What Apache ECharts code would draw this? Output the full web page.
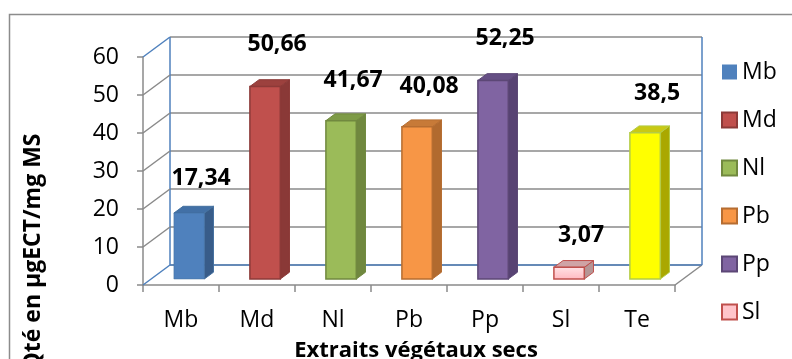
<!DOCTYPE html>
<html>
<head>
<meta charset="utf-8">
<script src="https://cdn.jsdelivr.net/npm/echarts@6/dist/echarts.min.js"></script>
<style>
  html, body { margin: 0; padding: 0; background: #fff; }
  #chart { width: 792px; height: 359px; }
</style>
</head>
<body>
<div id="chart"></div>
<script>
// Extract amounts per dried plant extract
const categories = ['Mb', 'Md', 'Nl', 'Pb', 'Pp', 'Sl', 'Te'];
const values = [17.34, 50.66, 41.67, 40.08, 52.25, 3.07, 38.5];
const yTicks = [0, 10, 20, 30, 40, 50, 60];
const legendNames = ['Mb', 'Md', 'Nl', 'Pb', 'Pp', 'Sl'];

// Face colours of each 3D column: front, side, top, outline
const palette = {
  Mb: { front: '#4F81BD', side: '#385C89', top: '#4270A6', edge: '#44709F' },
  Md: { front: '#C0504D', side: '#8A3937', top: '#9C413E', edge: '#8C3A38' },
  Nl: { front: '#9BBB59', side: '#70883F', top: '#7E9B47', edge: '#71893F' },
  Pb: { front: '#F79646', side: '#B16A2F', top: '#C77A38', edge: '#B66D31' },
  Pp: { front: '#8064A2', side: '#584373', top: '#654F84', edge: '#5C4776' },
  Sl: { front: '#FFC4CA', side: '#B69696', top: '#CFA3A5', edge: '#C0504D' },
  Te: { front: '#FFFF00', side: '#AAA800', top: '#C9C914', edge: '#B4CC46' }
};

// Depth vector of the chart box (front plane -> back wall), in pixels
const DEPTH_X = 27, DEPTH_Y = -20;
const FRONT_FRAC = 0.3;   // depth of a column's front face
const SIDE_FRAC = 0.34;   // column thickness along depth
const BAR_RATIO = 0.4;    // column width as part of a category band

const GRID_LINE = '#8A8A8A';
const WALL_EDGE = '#4F81BD';
const FONT = '"Open Sans", "DejaVu Sans", sans-serif';

function fmt(v) { return String(v).replace('.', ','); }

function renderColumn(params, api) {
  const ci = api.value(0);
  const v = api.value(1);
  const c = palette[categories[ci]];
  const base = api.coord([ci, 0]);
  const top = api.coord([ci, v]);
  const band = api.size([1, 0])[0];
  const w = band * BAR_RATIO;
  const ox = DEPTH_X * FRONT_FRAC, oy = DEPTH_Y * FRONT_FRAC;
  const sx = DEPTH_X * SIDE_FRAC, sy = DEPTH_Y * SIDE_FRAC;
  const x0 = base[0] - w / 2 + ox, x1 = x0 + w;
  const yb = base[1] + oy, yt = top[1] + oy;

  const frontFill = categories[ci] === 'Sl'
    ? new echarts.graphic.LinearGradient(0, 0, 0, 1, [
        { offset: 0, color: '#FFE3E6' }, { offset: 1, color: '#FFB8C0' }])
    : c.front;

  return {
    type: 'group',
    children: [
      {
        type: 'polygon',
        shape: { points: [[x1, yt], [x1 + sx, yt + sy], [x1 + sx, yb + sy], [x1, yb]] },
        style: { fill: c.side, stroke: c.edge, lineWidth: 1 }
      },
      {
        type: 'polygon',
        shape: { points: [[x0, yt], [x0 + sx, yt + sy], [x1 + sx, yt + sy], [x1, yt]] },
        style: { fill: c.top, stroke: c.edge, lineWidth: 1 }
      },
      {
        type: 'rect',
        shape: { x: x0, y: yt, width: w, height: yb - yt },
        style: { fill: frontFill, stroke: c.edge, lineWidth: categories[ci] === 'Mb' ? 0.5 : 1.5 }
      },
      {
        type: 'text',
        style: {
          text: fmt(v),
          x: base[0] + ox + 12,
          y: yt - (31 + 0.22 * v),
          align: 'center',
          verticalAlign: 'middle',
          fontSize: 23,
          fontWeight: 'bold',
          fontFamily: FONT,
          fill: '#000'
        }
      }
    ]
  };
}

// Left side wall diagonals and box edges
function renderFrame(params, api) {
  const v = api.value(0);
  const cs = params.coordSys;
  const y = api.coord([0, v])[1];
  const xL = cs.x;
  const xR = cs.x + cs.width;
  const isEdge = (v === yTicks[0] || v === yTicks[yTicks.length - 1]);
  const children = [{
    type: 'line',
    shape: { x1: xL, y1: y, x2: xL + DEPTH_X, y2: y + DEPTH_Y },
    style: { stroke: isEdge ? WALL_EDGE : GRID_LINE, lineWidth: 1.5 }
  }];
  if (v === yTicks[0]) {
    const topY = api.coord([0, yTicks[yTicks.length - 1]])[1] + DEPTH_Y;
    children.push(
      { type: 'line', shape: { x1: xR, y1: y, x2: xR + DEPTH_X, y2: y + DEPTH_Y },
        style: { stroke: GRID_LINE, lineWidth: 1.5 } },
      { type: 'line', shape: { x1: xL + DEPTH_X, y1: y + DEPTH_Y, x2: xR + DEPTH_X, y2: y + DEPTH_Y },
        style: { stroke: WALL_EDGE, lineWidth: 1.5 } },
      { type: 'line', shape: { x1: xL + DEPTH_X, y1: y + DEPTH_Y, x2: xL + DEPTH_X, y2: topY },
        style: { stroke: WALL_EDGE, lineWidth: 1.5 } },
      { type: 'line', shape: { x1: xR + DEPTH_X, y1: y + DEPTH_Y, x2: xR + DEPTH_X, y2: topY },
        style: { stroke: WALL_EDGE, lineWidth: 1.5 } }
    );
  }
  return { type: 'group', children };
}

const chart = echarts.init(document.getElementById('chart'), null, { renderer: 'canvas' });

const columnSeries = categories.map((name, i) => ({
  name,
  type: 'custom',
  xAxisIndex: 0,
  yAxisIndex: 0,
  z: 5,
  itemStyle: { color: palette[name].front },
  renderItem: renderColumn,
  data: [[i, values[i]]]
}));

chart.setOption({
  animation: false,
  backgroundColor: '#fff',
  grid: [
    { left: 143, top: 57, width: 532, height: 228 },                    // front plane
    { left: 143 + DEPTH_X, top: 57 + DEPTH_Y, width: 532, height: 228 }  // back wall
  ],
  xAxis: [
    {
      gridIndex: 0,
      type: 'category',
      data: categories,
      boundaryGap: true,
      axisLine: { lineStyle: { color: GRID_LINE, width: 1.5 } },
      axisTick: { show: true, length: 7, interval: 0, lineStyle: { color: GRID_LINE, width: 1.5 } },
      axisLabel: { margin: 22, fontSize: 23, lineHeight: 26, color: '#000', fontFamily: FONT }
    },
    { gridIndex: 1, type: 'category', data: categories, show: false }
  ],
  yAxis: [
    {
      gridIndex: 0,
      type: 'value',
      min: 0, max: 60, interval: 10,
      axisLine: { show: true, lineStyle: { color: GRID_LINE, width: 1.5 } },
      axisTick: { show: true, length: 6, lineStyle: { color: GRID_LINE, width: 1.5 } },
      axisLabel: { margin: 24, fontSize: 23, color: '#000', fontFamily: FONT },
      splitLine: { show: false }
    },
    {
      gridIndex: 1,
      type: 'value',
      min: 0, max: 60, interval: 10,
      axisLine: { show: false },
      axisTick: { show: false },
      axisLabel: { show: false },
      splitLine: { show: true, lineStyle: { color: GRID_LINE, width: 1.5 } }
    }
  ],
  legend: {
    orient: 'vertical',
    left: 721,
    top: 59,
    padding: 0,
    itemWidth: 15,
    itemHeight: 15,
    itemGap: 22,
    icon: 'rect',
    textStyle: { fontSize: 23, lineHeight: 26, color: '#000', fontFamily: FONT },
    data: legendNames.map(n => ({
      name: n,
      itemStyle: {
        color: palette[n].front,
        borderColor: n === 'Mb' ? palette[n].front : palette[n].edge,
        borderWidth: n === 'Mb' ? 0 : 2
      }
    }))
  },
  graphic: [
    {
      type: 'rect',
      shape: { x: 9.5, y: 14.5, width: 820, height: 400 },
      style: { fill: 'none', stroke: '#8C8C8C', lineWidth: 1.5 },
      silent: true, z: -10
    },
    {
      type: 'text',
      x: 33, y: 252,
      rotation: Math.PI / 2,
      style: {
        text: 'Qté en µgECT/mg MS',
        align: 'center', verticalAlign: 'middle',
        fontSize: 23, fontWeight: 'bold', fontFamily: FONT, fill: '#000'
      }
    },
    {
      type: 'text',
      x: 416, y: 351,
      style: {
        text: 'Extraits végétaux secs',
        align: 'center', verticalAlign: 'middle',
        fontSize: 22, fontWeight: 'bold', fontFamily: FONT, fill: '#000'
      }
    }
  ],
  series: [
    {
      name: 'frame',
      type: 'custom',
      xAxisIndex: 0,
      yAxisIndex: 0,
      z: 1,
      silent: true,
      renderItem: renderFrame,
      data: yTicks.map(v => [v]),
      encode: { y: 0 }
    }
  ].concat(columnSeries)
});
</script>
</body>
</html>
